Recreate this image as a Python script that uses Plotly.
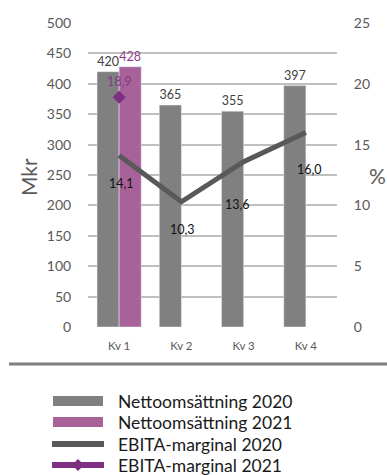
import plotly.graph_objects as go

categories = ["Kv 1", "Kv 2", "Kv 3", "Kv 4"]
net_2020 = [420, 365, 355, 397]
net_2021 = [428, None, None, None]
ebita_2020 = [14.1, 10.3, 13.6, 16.0]
ebita_2021 = [18.9, None, None, None]
series_names = ["Nettoomsättning 2020", "Nettoomsättning 2021", "EBITA-marginal 2020", "EBITA-marginal 2021"]

GRAY_BAR = "#808080"
PURPLE_BAR = "#A9619A"
LINE_GRAY = "#595959"
PURPLE_DARK = "#7E2F82"
TXT = "#595959"
FONT = "Lato"

W, H = 387, 475
L, R, T, B = 88, 337, 23, 327


def px_x(x):
    return (x - L) / (R - L)


def px_y(y):
    return (B - y) / (B - T)


def fmt(v):
    return f"{v:.1f}".replace(".", ",")


fig = go.Figure()
fig.add_trace(go.Bar(x=categories, y=net_2020, name=series_names[0], marker_color=GRAY_BAR,
                     text=[str(v) for v in net_2020], textposition="outside",
                     textfont=dict(color="#404040", size=12.5, family=FONT), cliponaxis=False))
fig.add_trace(go.Bar(x=categories, y=net_2021, name=series_names[1], marker_color=PURPLE_BAR,
                     text=[str(v) if v is not None else "" for v in net_2021], textposition="outside",
                     textfont=dict(color="#8E3F8A", size=12.5, family=FONT), cliponaxis=False))
fig.add_trace(go.Scatter(x=categories, y=ebita_2020, name=series_names[2], mode="lines",
                         line=dict(color=LINE_GRAY, width=5), yaxis="y2"))
fig.add_trace(go.Scatter(x=categories, y=ebita_2021, name=series_names[3], mode="markers",
                         marker=dict(color=PURPLE_DARK, symbol="diamond", size=10), yaxis="y2"))

# EBITA 2020 labels
shifts = [(2, -28), (1, -28), (-6, -43), (4, -37)]
for c, v, (dx, dy) in zip(categories, ebita_2020, shifts):
    fig.add_annotation(x=c, y=v, yref="y2", text=fmt(v), showarrow=False,
                       xshift=dx, yshift=dy, font=dict(color="#111111", size=12.5, family=FONT))
# EBITA 2021 label
for c, v in zip(categories, ebita_2021):
    if v is not None:
        fig.add_annotation(x=c, y=v, yref="y2", text=fmt(v), showarrow=False,
                           yshift=16, font=dict(color="#7E3C86", size=12.5, family=FONT))

# Axis titles
fig.add_annotation(x=px_x(28), y=px_y(177), xref="paper", yref="paper", text="Mkr",
                   xanchor="center", yanchor="middle",
                   textangle=-90, showarrow=False, font=dict(color=TXT, size=21, family=FONT))
fig.add_annotation(x=px_x(377), y=px_y(175), xref="paper", yref="paper", text="%",
                   xanchor="center", yanchor="middle",
                   showarrow=False, font=dict(color=TXT, size=21, family=FONT))

# separator line
fig.add_shape(type="line", xref="paper", yref="paper", x0=px_x(9), x1=px_x(387),
              y0=px_y(364), y1=px_y(364), line=dict(color="#7F7F7F", width=3))

# manual legend
rows = [401, 422, 444, 465]
for name, yc, kind in zip(series_names, rows, ["bar1", "bar2", "line1", "line2"]):
    if kind.startswith("bar"):
        col = GRAY_BAR if kind == "bar1" else PURPLE_BAR
        fig.add_shape(type="rect", xref="paper", yref="paper", x0=px_x(53), x1=px_x(103),
                      y0=px_y(yc - 5), y1=px_y(yc + 5), fillcolor=col, line=dict(width=0))
    else:
        col = LINE_GRAY if kind == "line1" else PURPLE_DARK
        fig.add_shape(type="line", xref="paper", yref="paper", x0=px_x(52), x1=px_x(104),
                      y0=px_y(yc), y1=px_y(yc), line=dict(color=col, width=6))
        if kind == "line2":
            fig.add_shape(type="path", xref="paper", yref="paper",
                          path=f"M {px_x(78)} {px_y(yc-6)} L {px_x(84)} {px_y(yc)} L {px_x(78)} {px_y(yc+6)} L {px_x(72)} {px_y(yc)} Z",
                          fillcolor=PURPLE_DARK, line=dict(width=0))
    fig.add_annotation(x=px_x(116), y=px_y(yc), xref="paper", yref="paper", text=name,
                       xanchor="left", yanchor="middle", showarrow=False,
                       font=dict(color="#1a1a1a", size=17.5, family=FONT))

fig.update_layout(
    width=W, height=H, margin=dict(l=L, r=W - R, t=T, b=H - B),
    paper_bgcolor="white", plot_bgcolor="white", showlegend=False,
    barmode="group", bargap=0.29, bargroupgap=0,
    font=dict(family=FONT, color=TXT),
    xaxis=dict(showgrid=False, showline=False, ticks="outside", ticklen=8, tickcolor="rgba(0,0,0,0)",
               tickfont=dict(size=11.5, color=TXT, family=FONT)),
    yaxis=dict(range=[0, 500], dtick=50, showgrid=True, gridcolor="#BFBFBF", gridwidth=1.5,
               zeroline=False, showline=False, ticks="outside", ticklen=13, tickcolor="rgba(0,0,0,0)",
               tickfont=dict(size=14, color=TXT, family=FONT)),
    yaxis2=dict(range=[0, 25], dtick=5, overlaying="y", side="right", showgrid=False, zeroline=False,
                showline=False, ticks="outside", ticklen=13, tickcolor="rgba(0,0,0,0)",
                tickfont=dict(size=14, color=TXT, family=FONT)),
)

fig.write_html("out.html")
